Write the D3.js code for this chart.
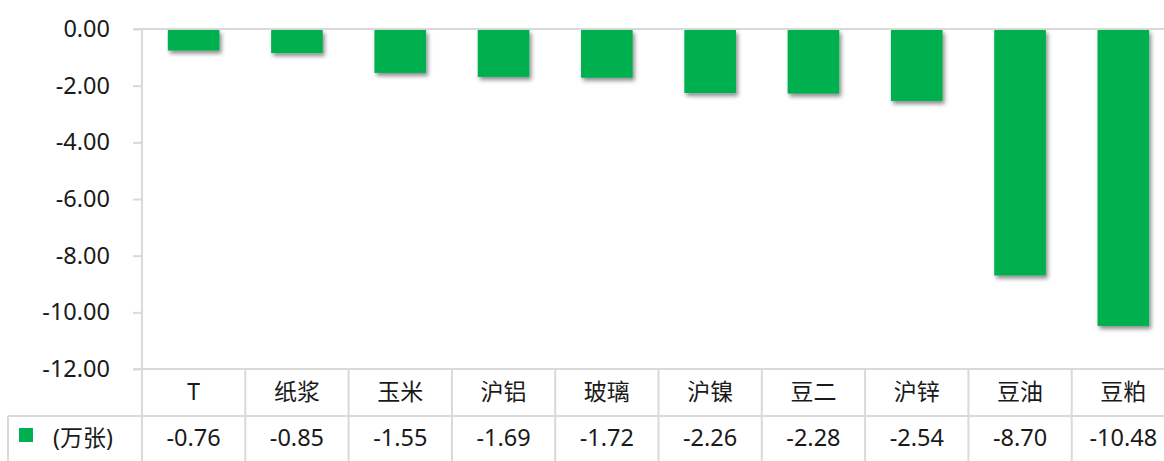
<!DOCTYPE html>
<html>
<head>
<meta charset="utf-8">
<script src="https://cdn.jsdelivr.net/npm/d3@7"></script>
<style>
  body { margin: 0; background: #fff; }
  text { font-family: "Noto Sans", "Noto Sans CJK SC", sans-serif; fill: #1a1a1a; }
</style>
</head>
<body>
<div id="chart"></div>
<script>
let width = 1164,
    height = 461;

// data
const categories = ["T", "纸浆", "玉米", "沪铝", "玻璃", "沪镍", "豆二", "沪锌", "豆油", "豆粕"];
const values = [-0.76, -0.85, -1.55, -1.69, -1.72, -2.26, -2.28, -2.54, -8.70, -10.48];
const yTicks = [0, -2, -4, -6, -8, -10, -12];
const seriesName = "(万张)";

const plotLeft = 142, plotRight = 1175, plotTop = 29, plotBottom = 369;
const rowMid = 416, tableBottom = 461, tableLeft = 8;

const svg = d3.select("#chart")
  .append("svg")
  .attr("width", width)
  .attr("height", height);

// shadow for bars
const defs = svg.append("defs");
const f = defs.append("filter").attr("id", "shadow")
  .attr("x", "-20%").attr("y", "-20%").attr("width", "150%").attr("height", "150%");
f.append("feDropShadow")
  .attr("dx", 2).attr("dy", 3).attr("stdDeviation", 2.2)
  .attr("flood-color", "#000").attr("flood-opacity", 0.45);

let x = d3.scaleBand()
  .domain(categories)
  .range([plotLeft, plotRight])
  .paddingInner(0.5)
  .paddingOuter(0.25);

let col = d3.scaleBand()
  .domain(categories)
  .range([plotLeft, plotRight]);

let y = d3.scaleLinear()
  .domain([-12, 0])
  .range([plotBottom, plotTop]);

const gridColor = "#d9d9d9";

// y axis
const yAxis = svg.append("g")
  .attr("transform", `translate(${plotLeft},0)`)
  .call(d3.axisLeft(y).tickValues(yTicks).tickSize(9).tickPadding(23)
    .tickFormat(d => d.toFixed(2)));
yAxis.select(".domain").remove();
yAxis.selectAll(".tick line").attr("stroke", gridColor).attr("stroke-width", 2);
yAxis.selectAll(".tick text")
  .style("font-size", "23.5px")
  .style("font-family", '"Noto Sans", sans-serif')
  .attr("fill", "#1a1a1a");

// zero line (category axis at top)
svg.append("line")
  .attr("x1", plotLeft - 9).attr("x2", width)
  .attr("y1", y(0)).attr("y2", y(0))
  .attr("stroke", gridColor).attr("stroke-width", 2);

// bars
svg.append("g")
  .selectAll("rect")
  .data(values)
  .join("rect")
  .attr("x", (d, i) => x(categories[i]))
  .attr("width", x.bandwidth())
  .attr("y", y(0) + 1)
  .attr("height", d => y(d) - y(0) - 1)
  .attr("fill", "#00b050")
  .attr("filter", "url(#shadow)");

// vertical axis line through table
svg.append("line")
  .attr("x1", plotLeft).attr("x2", plotLeft)
  .attr("y1", y(0)).attr("y2", tableBottom)
  .attr("stroke", gridColor).attr("stroke-width", 2);

// data table lines
const table = svg.append("g");
table.append("line")
  .attr("x1", plotLeft - 9).attr("x2", width)
  .attr("y1", plotBottom).attr("y2", plotBottom)
  .attr("stroke", gridColor).attr("stroke-width", 2);
table.append("line")
  .attr("x1", tableLeft).attr("x2", width)
  .attr("y1", rowMid).attr("y2", rowMid)
  .attr("stroke", gridColor).attr("stroke-width", 2);
table.append("line")
  .attr("x1", tableLeft).attr("x2", tableLeft)
  .attr("y1", rowMid).attr("y2", tableBottom)
  .attr("stroke", gridColor).attr("stroke-width", 2);
table.selectAll(".col")
  .data(categories)
  .join("line")
  .attr("class", "col")
  .attr("x1", d => col(d) + col.bandwidth())
  .attr("x2", d => col(d) + col.bandwidth())
  .attr("y1", plotBottom).attr("y2", tableBottom)
  .attr("stroke", gridColor).attr("stroke-width", 2);

// category labels
table.selectAll(".cat")
  .data(categories)
  .join("text")
  .attr("class", "cat")
  .attr("x", d => col(d) + col.bandwidth() / 2)
  .attr("y", (plotBottom + rowMid) / 2 + 1)
  .attr("text-anchor", "middle")
  .attr("dominant-baseline", "middle")
  .style("font-size", "23px")
  .text(d => d);

// values
table.selectAll(".val")
  .data(values)
  .join("text")
  .attr("class", "val")
  .attr("x", (d, i) => col(categories[i]) + col.bandwidth() / 2)
  .attr("y", (rowMid + tableBottom) / 2 + 1)
  .attr("text-anchor", "middle")
  .attr("dominant-baseline", "middle")
  .style("font-size", "23.5px")
  .text(d => d.toFixed(2));

// legend key
table.append("rect")
  .attr("x", 19).attr("y", 428)
  .attr("width", 14).attr("height", 14)
  .attr("fill", "#00b050");
table.append("text")
  .attr("x", 53)
  .attr("y", (rowMid + tableBottom) / 2 + 1)
  .attr("dominant-baseline", "middle")
  .style("font-size", "23px")
  .text(seriesName);
</script>
</body>
</html>
